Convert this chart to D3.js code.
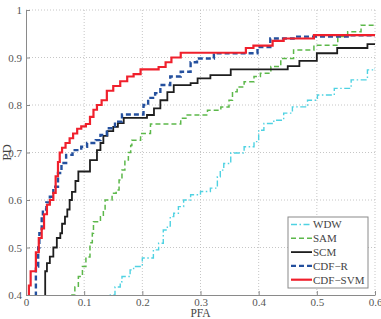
<!DOCTYPE html>
<html>
<head>
<meta charset="utf-8">
<script src="https://cdn.jsdelivr.net/npm/d3@7"></script>
<style>
  html, body { margin: 0; padding: 0; background: #fff; }
  svg { display: block; font-family: "Liberation Serif", "DejaVu Serif", serif; }
</style>
</head>
<body>
<div id="chart"></div>
<script>
// Tick values and labels
const xTicks = [0, 0.1, 0.2, 0.3, 0.4, 0.5, 0.6];
const xTickLabels = ["0", "0.1", "0.2", "0.3", "0.4", "0.5", "0.6"];
const yTicks = [0.4, 0.5, 0.6, 0.7, 0.8, 0.9, 1];
const yTickLabels = ["0.4", "0.5", "0.6", "0.7", "0.8", "0.9", "1"];

// Series names (legend order)
const seriesNames = ["WDW", "SAM", "SCM", "CDF\u2212R", "CDF\u2212SVM"];

// ROC step points: PFA where each PD level starts
const wdwPfa = [0.145, 0.145, 0.153, 0.162, 0.165, 0.179, 0.185, 0.2, 0.219, 0.228, 0.236, 0.243, 0.248, 0.254, 0.262, 0.271, 0.283, 0.3, 0.317, 0.329, 0.334, 0.34, 0.352, 0.375, 0.392, 0.4, 0.409, 0.426, 0.443, 0.458, 0.484, 0.501, 0.53, 0.559, 0.587, 0.6];
const wdwPd  = [0.38, 0.4, 0.417, 0.428, 0.439, 0.453, 0.46, 0.478, 0.495, 0.509, 0.537, 0.545, 0.565, 0.572, 0.586, 0.6, 0.611, 0.618, 0.625, 0.649, 0.663, 0.677, 0.699, 0.712, 0.723, 0.747, 0.761, 0.768, 0.783, 0.796, 0.81, 0.821, 0.835, 0.853, 0.874, 0.877];

const samPfa = [0.079, 0.079, 0.084, 0.09, 0.097, 0.103, 0.11, 0.114, 0.116, 0.128, 0.133, 0.136, 0.148, 0.155, 0.16, 0.165, 0.17, 0.176, 0.18, 0.182, 0.197, 0.214, 0.266, 0.275, 0.312, 0.335, 0.349, 0.355, 0.363, 0.375, 0.392, 0.403, 0.421, 0.438, 0.46, 0.495, 0.536, 0.553, 0.576, 0.6];
const samPd  = [0.38, 0.4, 0.417, 0.439, 0.46, 0.48, 0.51, 0.53, 0.554, 0.565, 0.579, 0.6, 0.614, 0.621, 0.642, 0.663, 0.684, 0.7, 0.715, 0.726, 0.74, 0.76, 0.772, 0.779, 0.789, 0.796, 0.81, 0.828, 0.838, 0.849, 0.86, 0.867, 0.881, 0.898, 0.916, 0.926, 0.944, 0.954, 0.968, 0.968];

const scmPfa = [0.033, 0.033, 0.036, 0.041, 0.047, 0.053, 0.059, 0.062, 0.067, 0.071, 0.075, 0.079, 0.085, 0.09, 0.11, 0.122, 0.128, 0.133, 0.14, 0.15, 0.158, 0.168, 0.208, 0.22, 0.231, 0.243, 0.254, 0.283, 0.295, 0.317, 0.352, 0.45, 0.47, 0.5, 0.535, 0.587, 0.6];
const scmPd  = [0.38, 0.45, 0.467, 0.481, 0.5, 0.52, 0.53, 0.55, 0.565, 0.58, 0.6, 0.617, 0.64, 0.66, 0.684, 0.705, 0.72, 0.735, 0.745, 0.754, 0.762, 0.773, 0.779, 0.793, 0.81, 0.827, 0.842, 0.846, 0.856, 0.863, 0.875, 0.882, 0.893, 0.909, 0.92, 0.928, 0.928];

const cdfrPfa = [0.017, 0.017, 0.021, 0.023, 0.027, 0.029, 0.035, 0.041, 0.047, 0.055, 0.061, 0.069, 0.08, 0.095, 0.105, 0.12, 0.128, 0.139, 0.153, 0.165, 0.202, 0.21, 0.222, 0.231, 0.248, 0.266, 0.283, 0.294, 0.323, 0.398, 0.42, 0.46, 0.553, 0.6];
const cdfrPd  = [0.38, 0.46, 0.5, 0.53, 0.565, 0.58, 0.595, 0.607, 0.628, 0.657, 0.678, 0.695, 0.705, 0.712, 0.72, 0.726, 0.737, 0.751, 0.765, 0.78, 0.8, 0.815, 0.825, 0.842, 0.86, 0.87, 0.89, 0.898, 0.909, 0.922, 0.94, 0.944, 0.947, 0.947];

const svmPfa = [0.005, 0.005, 0.008, 0.017, 0.022, 0.027, 0.031, 0.036, 0.041, 0.047, 0.051, 0.055, 0.058, 0.062, 0.068, 0.075, 0.081, 0.088, 0.095, 0.103, 0.11, 0.116, 0.122, 0.13, 0.139, 0.15, 0.162, 0.174, 0.185, 0.197, 0.228, 0.24, 0.25, 0.266, 0.378, 0.391, 0.424, 0.443, 0.495, 0.6];
const svmPd  = [0.38, 0.42, 0.45, 0.49, 0.52, 0.54, 0.57, 0.59, 0.6, 0.615, 0.65, 0.68, 0.7, 0.71, 0.72, 0.73, 0.74, 0.75, 0.755, 0.76, 0.775, 0.79, 0.8, 0.81, 0.83, 0.84, 0.85, 0.86, 0.865, 0.875, 0.88, 0.89, 0.9, 0.91, 0.92, 0.925, 0.935, 0.94, 0.947, 0.947];

const width = 381, height = 319;
const margin = { top: 10, right: 6, bottom: 24, left: 26 };
const plotW = width - margin.left - margin.right;
const plotH = height - margin.top - margin.bottom;

const series = [
  { name: seriesNames[0], pfa: wdwPfa, pd: wdwPd, color: "#4fd2e2", width: 1.4, dash: "6,2.5,1.5,2.5" },
  { name: seriesNames[1], pfa: samPfa, pd: samPd, color: "#5cb84a", width: 1.5, dash: "5,3" },
  { name: seriesNames[2], pfa: scmPfa, pd: scmPd, color: "#1e1e1e", width: 1.8, dash: null },
  { name: seriesNames[3], pfa: cdfrPfa, pd: cdfrPd, color: "#24509e", width: 2.4, dash: "5,3" },
  { name: seriesNames[4], pfa: svmPfa, pd: svmPd, color: "#f0202c", width: 2.2, dash: null }
];

const svg = d3.select("#chart").append("svg")
  .attr("width", width)
  .attr("height", height);

const g = svg.append("g")
  .attr("transform", `translate(${margin.left}, ${margin.top})`);

const x = d3.scaleLinear().domain([0, 0.6]).range([0, plotW]);
const y = d3.scaleLinear().domain([0.4, 1]).range([plotH, 0]);

// dotted grid
g.append("g")
  .selectAll("line")
  .data(xTicks.slice(1))
  .join("line")
  .attr("x1", d => x(d)).attr("x2", d => x(d))
  .attr("y1", 0).attr("y2", plotH)
  .attr("stroke", "#b8b8b8")
  .attr("stroke-width", 0.8)
  .attr("stroke-dasharray", "1,2");

g.append("g")
  .selectAll("line")
  .data(yTicks.slice(1))
  .join("line")
  .attr("x1", 0).attr("x2", plotW)
  .attr("y1", d => y(d)).attr("y2", d => y(d))
  .attr("stroke", "#b8b8b8")
  .attr("stroke-width", 0.8)
  .attr("stroke-dasharray", "1,2");

// curves
svg.append("clipPath").attr("id", "plotclip")
  .append("rect").attr("width", plotW).attr("height", plotH);

const line = d3.line()
  .x(d => x(d[0]))
  .y(d => y(d[1]))
  .curve(d3.curveStepAfter);

const curves = g.append("g").attr("clip-path", "url(#plotclip)");
series.forEach(s => {
  curves.append("path")
    .datum(s.pfa.map((v, i) => [v, s.pd[i]]))
    .attr("fill", "none")
    .attr("stroke", s.color)
    .attr("stroke-width", s.width)
    .attr("stroke-dasharray", s.dash)
    .attr("d", line);
});

// axes
const xAxis = d3.axisBottom(x)
  .tickValues(xTicks)
  .tickFormat((d, i) => xTickLabels[i])
  .tickSizeInner(-4)
  .tickSizeOuter(0)
  .tickPadding(3);
const xAxisGroup = g.append("g")
  .attr("transform", `translate(0, ${plotH})`)
  .call(xAxis);

const yAxis = d3.axisLeft(y)
  .tickValues(yTicks)
  .tickFormat((d, i) => yTickLabels[i])
  .tickSizeInner(-4)
  .tickSizeOuter(0)
  .tickPadding(4);
const yAxisGroup = g.append("g").call(yAxis);

[xAxisGroup, yAxisGroup].forEach(ax => {
  ax.select(".domain").attr("stroke", "#8a8a8a").attr("stroke-width", 1);
  ax.selectAll(".tick line").attr("stroke", "#8a8a8a");
  ax.selectAll(".tick text")
    .attr("fill", "#555")
    .attr("font-size", 11)
    .attr("font-family", "Liberation Serif, serif");
});

// axis labels
svg.append("text")
  .attr("x", margin.left + x(0.3))
  .attr("y", 317)
  .attr("text-anchor", "middle")
  .attr("fill", "#444")
  .attr("font-size", 11.5)
  .text("PFA");

svg.append("text")
  .attr("transform", `translate(11, ${margin.top + y(0.7)}) rotate(-90)`)
  .attr("text-anchor", "middle")
  .attr("fill", "#444")
  .attr("font-size", 13)
  .text("PD");

// legend
const legend = svg.append("g").attr("transform", "translate(288, 217)");
legend.append("rect")
  .attr("width", 80)
  .attr("height", 71)
  .attr("fill", "#fff")
  .attr("stroke", "#8a8a8a")
  .attr("stroke-width", 1);

const rowH = 13.8;
series.forEach((s, i) => {
  const ly = 7.5 + i * rowH;
  legend.append("line")
    .attr("x1", 3).attr("x2", 24)
    .attr("y1", ly).attr("y2", ly)
    .attr("stroke", s.color)
    .attr("stroke-width", s.width)
    .attr("stroke-dasharray", s.dash);
  legend.append("text")
    .attr("x", 25)
    .attr("y", ly)
    .attr("dy", "0.35em")
    .attr("fill", "#444")
    .attr("font-size", 11)
    .text(s.name);
});
</script>
</body>
</html>
